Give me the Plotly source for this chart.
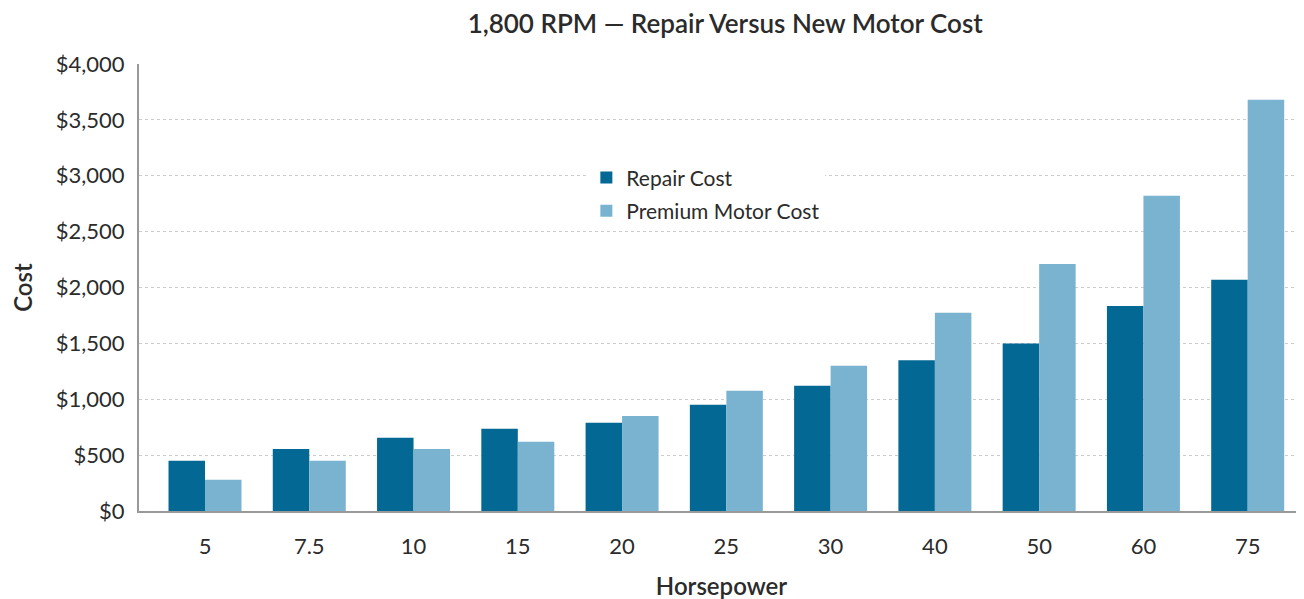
import plotly.graph_objects as go

horsepower = ['5', '7.5', '10', '15', '20', '25', '30', '40', '50', '60', '75']
repair_cost = [450, 555, 655, 735, 790, 950, 1120, 1350, 1500, 1835, 2070]
premium_motor_cost = [280, 450, 555, 620, 850, 1075, 1300, 1775, 2210, 2820, 3680]
y_ticks = [0, 500, 1000, 1500, 2000, 2500, 3000, 3500, 4000]
y_tick_labels = ['$0', '$500', '$1,000', '$1,500', '$2,000', '$2,500', '$3,000', '$3,500', '$4,000']

FONT = 'Lato'
TEXT = '#2b2b2b'

fig = go.Figure()
fig.add_trace(go.Bar(x=horsepower, y=repair_cost, name='Repair Cost', legendgroup='r',
                     marker=dict(color='#036894', line=dict(width=0))))
fig.add_trace(go.Bar(x=horsepower, y=premium_motor_cost, name='Premium Motor Cost', legendgroup='p',
                     marker=dict(color='#7ab3d0', line=dict(width=0))))

# page body has an 8px margin, so the figure itself is offset by 8px
fig.update_layout(
    width=1304, height=599,
    margin=dict(l=131, r=8, t=56, b=96),
    paper_bgcolor='white', plot_bgcolor='white',
    barmode='group', bargap=0.3, bargroupgap=0,
    font=dict(family=FONT, color=TEXT, size=22),
    title=dict(text='1,800 RPM — Repair Versus New Motor Cost', x=0.55, xanchor='center',
               y=0.973, yanchor='middle', font=dict(family=FONT, size=26, color=TEXT, weight=600)),
    legend=dict(x=0.384, y=0.791, xanchor='left', yanchor='top', bgcolor='white',
                font=dict(size=21, color=TEXT), traceorder='grouped', tracegroupgap=3),
)
fig.update_xaxes(
    type='category', range=[-0.633, 10.54], showline=True, linecolor='#999999', linewidth=2,
    ticks='', tickfont=dict(size=22, color=TEXT), ticklabelstandoff=15,
    title=dict(text='Horsepower', font=dict(size=24, color=TEXT, weight=600), standoff=20),
)
fig.update_yaxes(
    range=[0, 4000], tickvals=y_ticks, ticktext=y_tick_labels, showline=True,
    linecolor='#999999', linewidth=2, showgrid=True, gridcolor='#cccccc', griddash='dot',
    gridwidth=1, zeroline=False, ticks='', tickfont=dict(size=22, color=TEXT), ticklabelstandoff=8,
    title=dict(text='Cost', font=dict(size=24, color=TEXT, weight=600), standoff=19),
)

fig.write_html("out.html")
